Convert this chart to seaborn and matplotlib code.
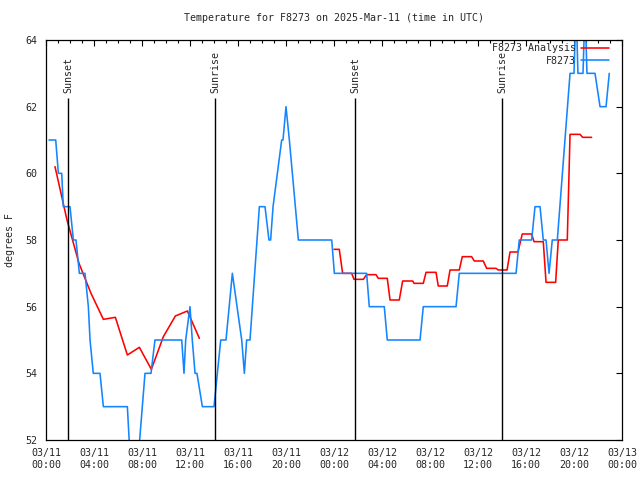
import pandas as pd
import matplotlib
matplotlib.use('Agg')
import matplotlib.pyplot as plt
import matplotlib.dates as mdates
import seaborn as sns

# hours after 2025-03-11 00:00 UTC
start = pd.Timestamp('2025-03-11 00:00')

# station observations (deg F)
obs_hours = [0.25, 0.81, 1.03, 1.31, 1.44, 2.0, 2.28, 2.5, 2.78, 3.25, 3.53, 3.67, 3.94, 4.5,
             4.78, 6.78, 7.08, 7.58, 8.25, 8.75, 9.08, 11.31, 11.5, 11.64, 12.0, 12.19, 12.42,
             12.58, 13.03, 14.0, 14.14, 14.28, 14.56, 15.0, 15.53, 16.31, 16.53, 16.72, 17.0,
             17.78, 18.25, 18.58, 18.72, 18.92, 19.64, 19.75, 20.0, 20.28, 21.03, 23.81, 24.03,
             26.72, 26.94, 28.19, 28.44, 31.17, 31.44, 34.17, 34.44, 39.17, 39.44, 40.47, 40.75,
             41.17, 41.44, 41.67, 41.92, 42.19, 42.61, 43.67, 44.0, 44.17, 44.33, 44.75, 44.92,
             45.08, 45.75, 46.17, 46.67, 46.94]
obs_temp = [61, 61, 60, 60, 59, 59, 58, 58, 57, 57, 56, 55, 54, 54,
            53, 53, 51, 51, 54, 54, 55, 55, 54, 55, 56, 55, 54,
            54, 53, 53, 53.5, 54, 55, 55, 57, 55, 54, 55, 55,
            59, 59, 58, 58, 59, 61, 61, 62, 61, 58, 58, 57,
            57, 56, 56, 55, 55, 56, 56, 57, 57, 58, 58, 59,
            59, 58, 58, 57, 58, 58, 63, 63, 65, 63, 63, 65,
            63, 63, 62, 62, 63]

# analysis, first piece
ana1_hours = [0.75, 1.75, 2.75, 3.75, 4.78, 5.78, 6.78, 7.78, 8.78, 9.78, 10.78, 11.78, 12.78]
ana1_temp = [60.2, 58.6, 57.3, 56.4, 55.62, 55.68, 54.55, 54.78, 54.12, 55.1, 55.72, 55.87, 55.05]

# analysis, second piece
ana2_hours = [24.0, 24.44, 24.72, 25.47, 25.67, 26.44, 26.72, 27.5, 27.69, 28.44, 28.67, 29.44,
              29.72, 30.56, 30.67, 31.44, 31.67, 32.5, 32.69, 33.44, 33.67, 34.44, 34.69, 35.47,
              35.69, 36.44, 36.72, 37.5, 37.69, 38.42, 38.67, 39.33, 39.69, 40.47, 40.67, 41.44,
              41.67, 42.47, 42.69, 43.44, 43.67, 44.5, 44.72, 45.47]
ana2_temp = [57.72, 57.72, 57.0, 57.0, 56.82, 56.82, 56.96, 56.96, 56.85, 56.85, 56.2, 56.2,
             56.77, 56.77, 56.7, 56.7, 57.03, 57.03, 56.62, 56.62, 57.1, 57.1, 57.5, 57.5,
             57.37, 57.37, 57.15, 57.15, 57.1, 57.1, 57.64, 57.64, 58.18, 58.18, 57.95, 57.95,
             56.73, 56.73, 58.0, 58.0, 61.17, 61.17, 61.08, 61.08]

sun_hours = [1.86, 14.08, 25.78, 38.03]
sun_labels = ['Sunset', 'Sunrise', 'Sunset', 'Sunrise']
sun_line_top = 62.25


def to_frame(hours, temps):
    d = pd.DataFrame({'hours': hours, 'temp': temps})
    d['time'] = start + pd.to_timedelta(d['hours'], unit='h')
    return d


obs = to_frame(obs_hours, obs_temp)
ana1 = to_frame(ana1_hours, ana1_temp)
ana2 = to_frame(ana2_hours, ana2_temp)

sns.set_style('white')
plt.rcParams['font.family'] = ['DejaVu Sans Mono']
plt.rcParams['font.size'] = 7.2

fig = plt.figure(figsize=(6.4, 4.8), dpi=100)
ax = fig.add_axes([46 / 640, 40 / 480, 576 / 640, 400 / 480])

red = '#ff0000'
blue = '#1485ff'

sns.lineplot(data=ana1, x='time', y='temp', color=red, lw=1.15, ax=ax, label='F8273 Analysis')
sns.lineplot(data=ana2, x='time', y='temp', color=red, lw=1.15, ax=ax)
sns.lineplot(data=obs, x='time', y='temp', color=blue, lw=1.15, ax=ax, label='F8273')

sun_times = [start + pd.Timedelta(hours=h) for h in sun_hours]
ax.vlines(sun_times, 52, sun_line_top, color='black', lw=1)
for t, lab in zip(sun_times, sun_labels):
    ax.text(t, sun_line_top + 0.15, lab, rotation=90, ha='center', va='bottom', fontsize=7.2)

ax.set_xlim(start, start + pd.Timedelta(hours=48))
ax.set_ylim(52, 64)
ax.set_yticks(range(52, 65, 2))
ax.xaxis.set_major_locator(mdates.HourLocator(byhour=range(0, 24, 4)))
ax.xaxis.set_minor_locator(mdates.HourLocator())
ax.xaxis.set_major_formatter(mdates.DateFormatter('%m/%d\n%H:%M'))

ax.tick_params(axis='both', which='both', direction='in', top=True, right=True,
               color='black', width=0.8, labelsize=7.2)
ax.tick_params(axis='both', which='major', length=4)
ax.tick_params(axis='both', which='minor', length=2.2)
ax.tick_params(axis='x', which='major', pad=6)
ax.tick_params(axis='y', which='major', pad=6)
for s in ax.spines.values():
    s.set_color('black')
    s.set_linewidth(0.9)

ax.set_xlabel('')
ax.set_ylabel('degrees F', fontsize=7.2, labelpad=8)
ax.set_title('Temperature for F8273 on 2025-Mar-11 (time in UTC)', fontsize=7.2, pad=14)

ax.legend(loc='upper right', bbox_to_anchor=(0.977, 0.992), frameon=False, markerfirst=False,
          borderaxespad=0, borderpad=0, handlelength=2.8, handletextpad=0.5,
          labelspacing=0.25, fontsize=7.2)

plt.savefig('out.png', dpi=100)
